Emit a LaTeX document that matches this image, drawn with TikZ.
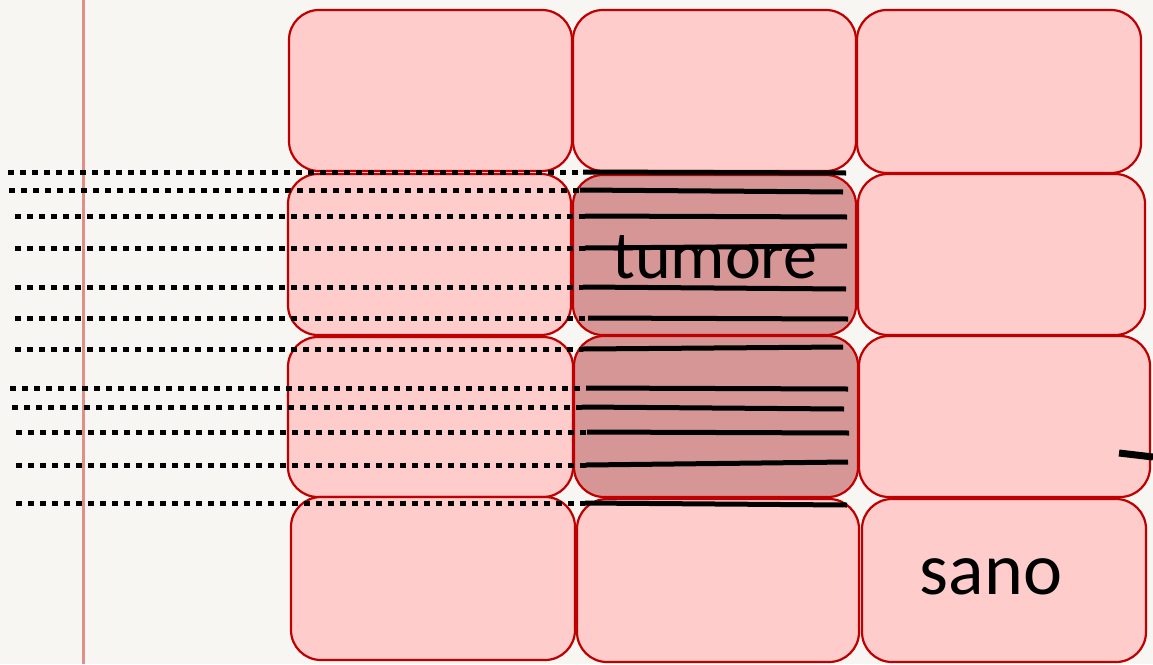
\documentclass[tikz,border=0pt]{standalone}
\usepackage{fontspec}
\setmainfont{Carlito}
\definecolor{bg}{HTML}{F7F6F3}
\definecolor{pinkfill}{HTML}{FFCCCC}
\definecolor{darkfill}{HTML}{D69696}
\definecolor{redline}{HTML}{C00000}
\definecolor{axis}{HTML}{DE8F86}
\begin{document}
\begin{tikzpicture}[x=1pt,y=-1pt,
  cell/.style={draw=redline, line width=2.2pt, fill=pinkfill, rounded corners=30pt, inner sep=0pt},
  darkcell/.style={cell, fill=darkfill},
  dotline/.style={line width=5pt, dash pattern=on 5.5pt off 6.5pt, line cap=butt},
  solidline/.style={line width=5pt, line cap=butt},
  label/.style={anchor=base, inner sep=0pt}]
\useasboundingbox[fill=bg] (0,0) rectangle (1153,664);
% vertical line
\draw[axis, line width=3pt] (83,0) -- (83,664);
% cells: #1 name, #2 style, left, top, right, bottom
\newcommand{\mycell}[6]{%
  \node[#2, minimum width={(#5-#3)*1pt}, minimum height={(#6-#4)*1pt}] (#1) at ({(#3+#5)/2},{(#4+#6)/2}) {};}
\mycell{c11}{cell}{289}{10}{572}{171}
\mycell{c12}{cell}{573}{10}{856}{171}
\mycell{c13}{cell}{857}{10}{1141}{173}
\mycell{c21}{cell}{288}{174}{571}{335}
\mycell{c22}{darkcell}{573}{175}{856}{335}
\mycell{c23}{cell}{858}{174}{1145}{335}
\mycell{c31}{cell}{288}{337}{573}{497}
\mycell{c32}{darkcell}{574}{336}{858}{497}
\mycell{c33}{cell}{859}{336}{1150}{497}
\mycell{c41}{cell}{291}{497}{575}{660}
\mycell{c42}{cell}{577}{499}{859}{662}
\mycell{c43}{cell}{862}{499}{1146}{662}
% lines: y, xstart, xjoin, xend, ysolid
\newcommand{\myline}[5]{%
  \draw[dotline] (#2,#1) -- (#3,#1);
  \draw[solidline] (#3,#1) -- (#4,#5);}
\myline{172}{8}{583}{846}{173}
\myline{190}{9}{580}{843}{192}
\myline{216}{15}{585}{847}{217}
\myline{248}{15}{585}{847}{246}
\myline{287}{15}{583}{846}{289}
\myline{318}{15}{588}{848}{319}
\myline{349}{15}{583}{843}{347}
\myline{388}{10}{586}{848}{389}
\myline{407}{12}{582}{844}{409}
\myline{432}{16}{587}{849}{433}
\myline{465}{16}{586}{848}{462}
\myline{503}{16}{585}{847}{505}
% small mark at right
\draw[line width=7pt] (1119,453) -- (1153,457);
% labels
\node[label, font=\fontsize{68}{68}\selectfont] (tum) at (715,278) {tumore};
\node[label, font=\fontsize{74}{74}\selectfont] (san) at (991,594) {sano};
\end{tikzpicture}
\end{document}
